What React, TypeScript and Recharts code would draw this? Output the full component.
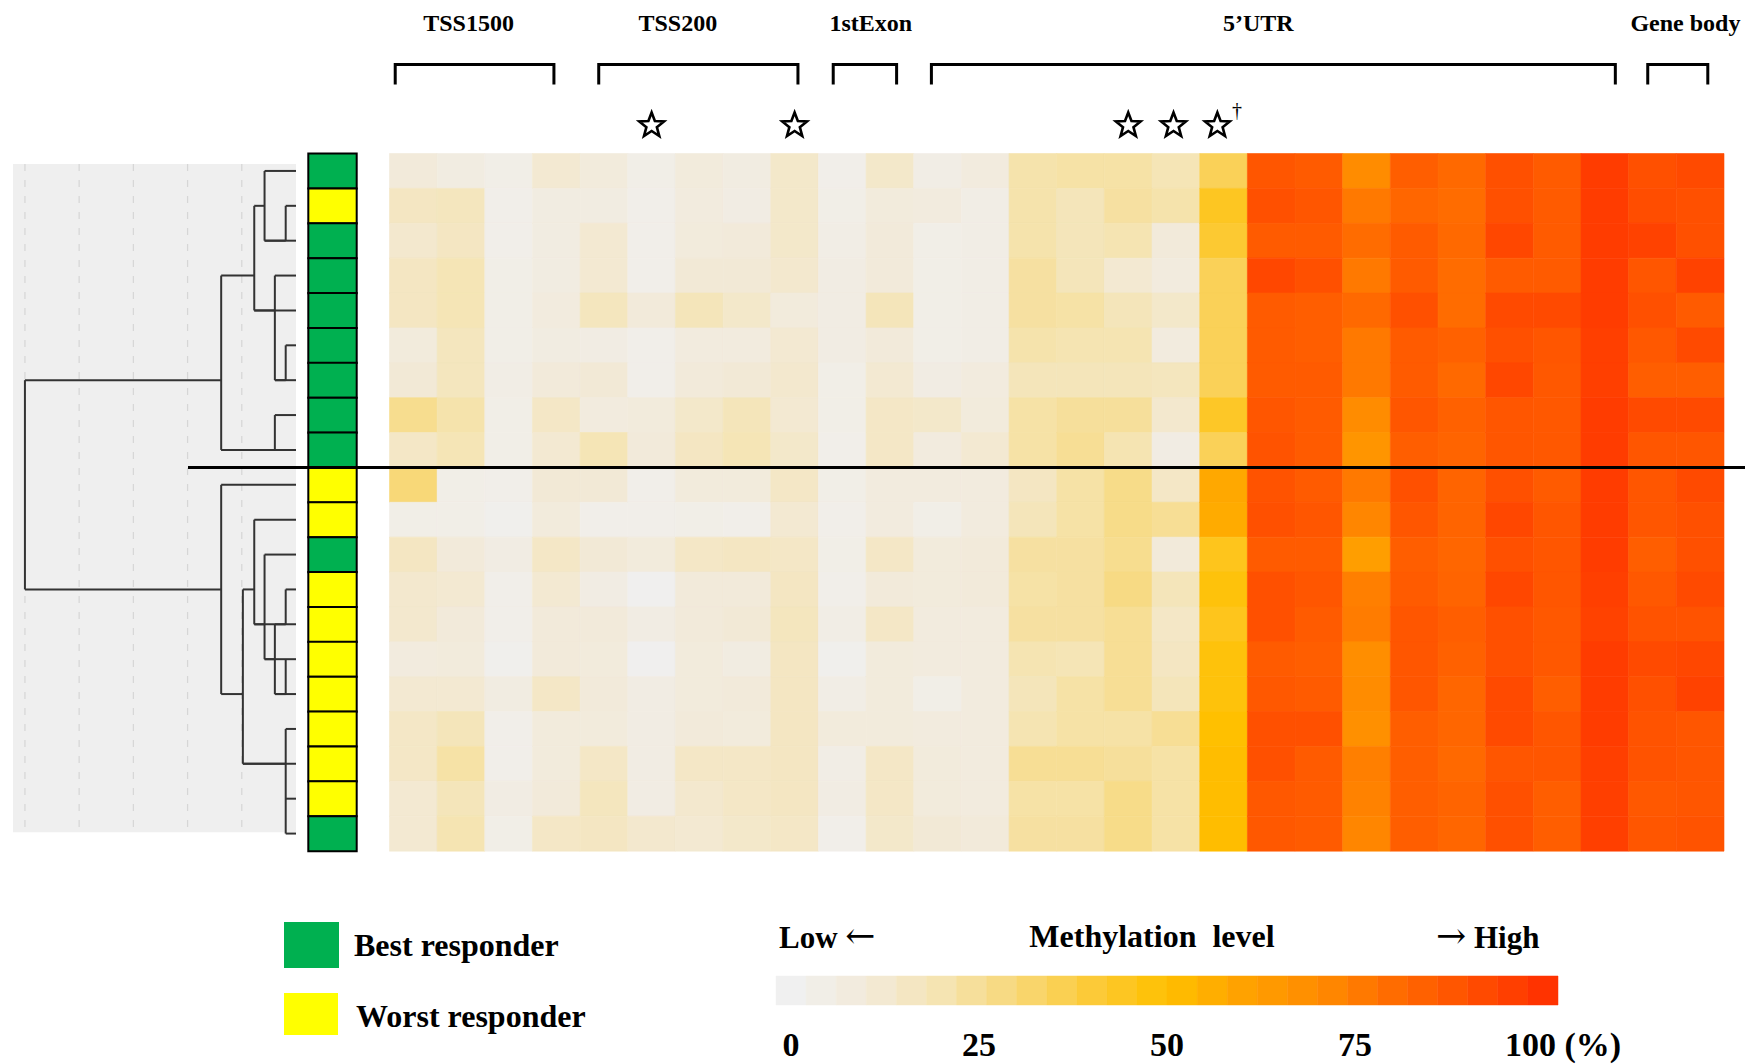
import React from 'react'
import {
  BarChart, Bar, Cell, XAxis, YAxis, ScatterChart, Scatter,
  ReferenceLine, ReferenceArea,
} from 'recharts'

// CpG site groups along the gene (site index = heatmap column)
const regionNames = ['TSS1500', 'TSS200', '1stExon', '5’UTR', 'Gene body']
const bracketStart = [0.12, 4.39, 9.31, 11.37, 26.4]
const bracketEnd = [3.45, 8.57, 10.64, 25.72, 27.66]
const labelAt = [1.66, 6.05, 10.1, 18.23, 27.19]

// significant sites
const starSites = [5.5, 8.5, 15.5, 16.45, 17.37]
const daggerSite = 17.78

// sample rows, top to bottom
const responder = ['best', 'worst', 'best', 'best', 'best', 'best', 'best', 'best', 'best', 'worst',
  'worst', 'best', 'worst', 'worst', 'worst', 'worst', 'worst', 'worst', 'worst', 'best']

// methylation level (%) per sample, 28 CpG sites each
const s01 = [10, 7, 4, 12, 9, 4, 9, 7, 14, 3, 14, 5, 8, 21, 22, 22, 19, 35, 88, 86, 70, 85, 81, 90, 86, 97, 90, 92]
const s02 = [16, 17, 3, 7, 7, 3, 8, 6, 14, 4, 9, 8, 5, 21, 18, 23, 21, 44, 90, 88, 76, 82, 80, 90, 86, 97, 91, 90]
const s03 = [13, 16, 3, 7, 12, 3, 9, 10, 14, 5, 10, 4, 5, 21, 18, 20, 10, 41, 86, 86, 80, 86, 81, 93, 86, 97, 95, 90]
const s04 = [16, 19, 4, 7, 12, 3, 11, 11, 13, 6, 10, 4, 5, 23, 18, 12, 8, 35, 93, 90, 76, 86, 80, 86, 86, 97, 88, 95]
const s05 = [16, 19, 4, 8, 17, 10, 18, 14, 9, 6, 18, 4, 5, 23, 22, 18, 14, 35, 86, 85, 81, 90, 80, 92, 92, 97, 90, 86]
const s06 = [9, 17, 4, 7, 6, 3, 8, 8, 12, 6, 10, 4, 5, 21, 20, 20, 8, 35, 86, 85, 76, 86, 84, 90, 88, 96, 87, 92]
const s07 = [11, 17, 5, 10, 11, 3, 10, 11, 13, 4, 12, 6, 8, 18, 18, 18, 17, 35, 86, 86, 76, 86, 81, 93, 87, 96, 85, 85]
const s08 = [26, 21, 4, 15, 8, 9, 14, 18, 12, 4, 15, 14, 9, 22, 24, 24, 13, 43, 88, 86, 70, 88, 84, 88, 87, 97, 92, 92]
const s09 = [15, 19, 4, 12, 19, 10, 16, 19, 14, 3, 15, 8, 12, 22, 25, 20, 6, 35, 89, 86, 66, 85, 83, 88, 87, 97, 88, 88]
const s10 = [30, 4, 3, 11, 11, 3, 9, 9, 15, 4, 8, 8, 8, 16, 22, 27, 15, 58, 89, 86, 76, 90, 83, 90, 86, 97, 88, 92]
const s11 = [4, 4, 2, 9, 3, 3, 4, 3, 12, 3, 8, 4, 8, 18, 22, 27, 25, 57, 90, 88, 72, 88, 83, 93, 88, 97, 88, 90]
const s12 = [16, 10, 6, 15, 11, 9, 15, 16, 15, 4, 15, 9, 10, 23, 23, 26, 10, 45, 86, 86, 62, 85, 82, 90, 88, 97, 85, 90]
const s13 = [13, 12, 3, 12, 6, 1, 10, 10, 16, 3, 10, 9, 10, 22, 23, 28, 18, 48, 90, 88, 74, 86, 83, 93, 88, 96, 87, 92]
const s14 = [13, 10, 3, 10, 10, 6, 10, 11, 17, 5, 15, 8, 8, 23, 23, 25, 15, 45, 90, 86, 75, 88, 85, 90, 87, 95, 89, 89]
const s15 = [8, 9, 2, 10, 9, 1, 9, 7, 16, 2, 9, 8, 8, 20, 19, 25, 16, 48, 86, 85, 69, 88, 84, 90, 87, 97, 92, 93]
const s16 = [12, 12, 7, 15, 10, 6, 9, 10, 16, 5, 9, 4, 8, 18, 22, 25, 18, 48, 87, 86, 70, 88, 82, 92, 85, 97, 90, 95]
const s17 = [15, 18, 3, 9, 9, 6, 10, 9, 16, 9, 9, 8, 8, 20, 22, 22, 25, 50, 90, 90, 68, 85, 82, 92, 88, 97, 89, 88]
const s18 = [15, 22, 3, 9, 15, 6, 15, 15, 16, 5, 15, 9, 8, 25, 25, 24, 22, 51, 90, 86, 74, 85, 81, 88, 88, 96, 89, 88]
const s19 = [12, 18, 6, 10, 17, 6, 13, 15, 16, 6, 15, 9, 8, 22, 22, 27, 22, 51, 87, 86, 73, 85, 83, 90, 85, 96, 87, 88]
const s20 = [12, 20, 4, 15, 16, 13, 12, 14, 15, 3, 14, 11, 10, 23, 23, 27, 22, 51, 87, 86, 72, 85, 82, 90, 85, 96, 88, 89]
const methylation = [s01, s02, s03, s04, s05, s06, s07, s08, s09, s10, s11, s12, s13, s14, s15, s16, s17, s18, s19, s20]

// dendrogram: leaf join heights, then merges (height, span rows, row where it hangs, parent height)
const leafJoin = [0.58, 0.19, 0.58, 0.39, 0.77, 0.19, 0.39, 0.39, 1.38, 1.38,
  0.77, 0.58, 0.19, 0.77, 0.58, 0.39, 0.19, 0.98, 0.19, 0.19]
const mergeHeight = [0.19, 0.58, 0.19, 0.39, 0.77, 0.39, 1.38, 0.19, 0.19, 0.39, 0.58, 0.77, 0.19, 0.98, 1.38, 5]
const mergeTop = [1, 0, 5, 3, 1, 7, 3, 12, 14, 13, 11, 10, 16, 12, 9, 6]
const mergeBottom = [2, 2, 6, 6, 4, 8, 8, 13, 15, 15, 14, 13, 19, 17, 15, 12]
const mergeAt = [2, 1, 6, 4, 3, 8, 6, 13, 15, 14, 13, 12, 17, 15, 12, -1]
const mergeUp = [0.58, 0.77, 0.39, 0.77, 1.38, 1.38, 5, 0.39, 0.39, 0.58, 0.77, 0.98, 0.98, 1.38, 5, 0]
const gridHeights = [1, 2, 3, 4, 5]

// colour key
const colorSteps = [0, 4, 8, 12, 16, 20, 24, 28, 32, 36, 40, 44, 48, 52, 56, 60, 64, 68, 72, 76, 80, 84, 88, 92, 96, 100]
const colorTicks = [0, 25, 50, 75, 100]

const stops = [
  [240, 240, 240], [242, 234, 218], [245, 228, 178], [248, 216, 120], [252, 202, 56], [255, 192, 0],
  [255, 162, 0], [255, 140, 0], [255, 108, 0], [255, 80, 0], [255, 51, 0],
]

function heatColor(v: number) {
  const t = Math.max(0, Math.min(100, v)) / 10
  const i = Math.min(9, Math.floor(t))
  const f = t - i
  const c = stops[i].map((a, k) => Math.round(a + (stops[i + 1][k] - a) * f))
  return `rgb(${c[0]},${c[1]},${c[2]})`
}

const respColor: Record<string, string> = { best: '#00b050', worst: '#ffff00' }
const serif = '"Liberation Serif", "Times New Roman", serif'
const arrowFont = '"DejaVu Serif", "DejaVu Sans", serif'

const heatRows = methylation.map((vals, i) => {
  const row: Record<string, number | string> = { sample: `S${i + 1}`, one: 1 }
  vals.forEach((_, j) => { row[`c${j}`] = 1 })
  return row
})

const dendroSegments = [
  ...leafJoin.map((h, r) => [{ h: 0, r }, { h, r }]),
  ...mergeHeight.map((h, k) => [{ h, r: mergeTop[k] }, { h, r: mergeBottom[k] }]),
  ...mergeHeight
    .map((h, k) => (mergeAt[k] < 0 ? null : [{ h, r: mergeAt[k] }, { h: mergeUp[k], r: mergeAt[k] }]))
    .filter((s): s is { h: number; r: number }[] => s !== null),
]

const noDot = () => <g />

function StarShape(props: any) {
  const { cx, cy } = props
  const pts: string[] = []
  for (let k = 0; k < 10; k++) {
    const rad = k % 2 === 0 ? 13 : 5.5
    const a = -Math.PI / 2 + (k * Math.PI) / 5
    pts.push(`${cx + rad * Math.cos(a)},${cy + rad * Math.sin(a)}`)
  }
  return <polygon points={pts.join(' ')} fill="#fff" stroke="#000" strokeWidth={2.6} strokeLinejoin="miter" />
}

function RegionLabel(props: any) {
  const { cx, cy, payload } = props
  return (
    <text x={cx} y={cy} textAnchor="middle" dominantBaseline="central" fontFamily={serif}
      fontWeight="bold" fontSize={24} fill="#000">{payload.name}</text>
  )
}

function Dagger(props: any) {
  const { cx, cy } = props
  return <text x={cx} y={cy} textAnchor="middle" dominantBaseline="central" fontFamily={serif} fontSize={20} fill="#000">†</text>
}

function PctTick(props: any) {
  const { x, y, payload } = props
  const v = payload.value
  const last = v === 100
  return (
    <text x={last ? x - 38 : x} y={y + 39} textAnchor={last ? 'start' : 'middle'} dominantBaseline="central"
      fontFamily={serif} fontWeight="bold" fontSize={34} fill="#000">{last ? '100 (%)' : v}</text>
  )
}

export default function App() {
  const bracketTop = 64.5
  const bracketFoot = 84.6
  return (
    <div style={{ position: 'absolute', left: 0, top: 0, width: 1745, height: 1064, background: '#fff', fontFamily: serif }}>
      {/* dendrogram */}
      <div style={{ position: 'absolute', left: 0, top: 0 }}>
        <ScatterChart width={300} height={1064} margin={{ top: 153.5, right: 4, bottom: 213, left: 13 }}>
          <XAxis type="number" dataKey="h" domain={[0, 5.22]} reversed hide />
          <YAxis type="number" dataKey="r" domain={[-0.5, 19.5]} reversed hide />
          <ReferenceArea x1={0} x2={5.22} y1={-0.2} y2={18.96} fill="#efefef" fillOpacity={1} stroke="none" />
          {gridHeights.map((h) => (
            <ReferenceLine key={h} segment={[{ x: h, y: -0.2 }, { x: h, y: 18.96 }]} stroke="#d6d6d6" strokeDasharray="7 9" strokeWidth={1.2} />
          ))}
          {dendroSegments.map((seg, k) => (
            <Scatter key={k} data={seg} line={{ stroke: '#333', strokeWidth: 2 }} shape={noDot} isAnimationActive={false} />
          ))}
        </ScatterChart>
      </div>

      {/* responder bar */}
      <div style={{ position: 'absolute', left: 300, top: 0 }}>
        <BarChart width={60} height={1064} layout="vertical" data={heatRows} barCategoryGap={0}
          margin={{ top: 153.5, right: 3.3, bottom: 213, left: 8.3 }}>
          <XAxis type="number" domain={[0, 1]} hide />
          <YAxis type="category" dataKey="sample" hide />
          <Bar dataKey="one" isAnimationActive={false}>
            {responder.map((r, i) => <Cell key={i} fill={respColor[r]} stroke="#000" strokeWidth={2} />)}
          </Bar>
        </BarChart>
      </div>

      {/* heatmap */}
      <div style={{ position: 'absolute', left: 380, top: 0 }}>
        <BarChart width={1365} height={1064} layout="vertical" data={heatRows} barCategoryGap={0}
          margin={{ top: 153.5, right: 21, bottom: 213, left: 9.5 }}>
          <XAxis type="number" domain={[0, 28]} hide />
          <YAxis type="category" dataKey="sample" hide />
          {s01.map((_, j) => (
            <Bar key={j} dataKey={`c${j}`} stackId="m" isAnimationActive={false}>
              {methylation.map((vals, i) => (
                <Cell key={i} fill={heatColor(vals[j])} stroke={heatColor(vals[j])} strokeWidth={0.6} />
              ))}
            </Bar>
          ))}
        </BarChart>
      </div>

      {/* region brackets, labels, stars */}
      <div style={{ position: 'absolute', left: 380, top: 0 }}>
        <ScatterChart width={1365} height={153.5} margin={{ top: 0, right: 21, bottom: 0, left: 9.5 }}>
          <XAxis type="number" dataKey="x" domain={[0, 28]} hide />
          <YAxis type="number" dataKey="y" domain={[0, 153.5]} reversed hide />
          {regionNames.map((name, k) => (
            <Scatter key={name} isAnimationActive={false} shape={noDot}
              line={{ stroke: '#000', strokeWidth: 3 }}
              data={[
                { x: bracketStart[k], y: bracketFoot }, { x: bracketStart[k], y: bracketTop },
                { x: bracketEnd[k], y: bracketTop }, { x: bracketEnd[k], y: bracketFoot },
              ]} />
          ))}
          <Scatter isAnimationActive={false} shape={RegionLabel}
            data={regionNames.map((name, k) => ({ x: labelAt[k], y: 23, name }))} />
          <Scatter isAnimationActive={false} shape={StarShape} data={starSites.map((x) => ({ x, y: 125.5 }))} />
          <Scatter isAnimationActive={false} shape={Dagger} data={[{ x: daggerSite, y: 110 }]} />
        </ScatterChart>
      </div>

      {/* cluster separator */}
      <div style={{ position: 'absolute', left: 188, top: 466, width: 1557, height: 3, background: '#000' }} />

      {/* responder legend */}
      <div style={{ position: 'absolute', left: 284, top: 922, width: 55, height: 46, background: respColor.best }} />
      <div style={{ position: 'absolute', left: 284, top: 993, width: 54, height: 42, background: respColor.worst }} />
      <div style={{ position: 'absolute', left: 354, top: 925, fontSize: 32, fontWeight: 'bold', lineHeight: '40px' }}>Best responder</div>
      <div style={{ position: 'absolute', left: 356, top: 996, fontSize: 32, fontWeight: 'bold', lineHeight: '40px' }}>Worst responder</div>

      {/* colour key */}
      <div style={{ position: 'absolute', left: 779, top: 916, fontSize: 31, fontWeight: 'bold', lineHeight: '40px', whiteSpace: 'pre' }}>
        Low <span style={{ fontFamily: arrowFont, fontWeight: 'normal', fontSize: 36 }}>←</span>
      </div>
      <div style={{ position: 'absolute', left: 1152, top: 916, transform: 'translateX(-50%)', fontSize: 32, fontWeight: 'bold', lineHeight: '40px', whiteSpace: 'pre' }}>Methylation  level</div>
      <div style={{ position: 'absolute', left: 1436, top: 916, fontSize: 31, fontWeight: 'bold', lineHeight: '40px', whiteSpace: 'pre' }}>
        <span style={{ fontFamily: arrowFont, fontWeight: 'normal', fontSize: 36 }}>→</span> High
      </div>
      <div style={{ position: 'absolute', left: 700, top: 960 }}>
        <ScatterChart width={1000} height={110} margin={{ top: 16, right: 142, bottom: 0, left: 76 }}>
          <XAxis type="number" dataKey="v" domain={[-2, 102]} ticks={colorTicks} interval={0}
            axisLine={false} tickLine={false} tickSize={0} tickMargin={0} height={65} tick={<PctTick />} />
          <YAxis type="number" dataKey="y" domain={[0, 1]} hide />
          {colorSteps.map((v) => (
            <ReferenceArea key={v} x1={v - 2} x2={v + 2} y1={0} y2={1} fill={heatColor(v)} fillOpacity={1}
              stroke={heatColor(v)} strokeWidth={0.5} />
          ))}
          <Scatter data={colorSteps.map((v) => ({ v, y: 0.5 }))} shape={noDot} isAnimationActive={false} />
        </ScatterChart>
      </div>
    </div>
  )
}
